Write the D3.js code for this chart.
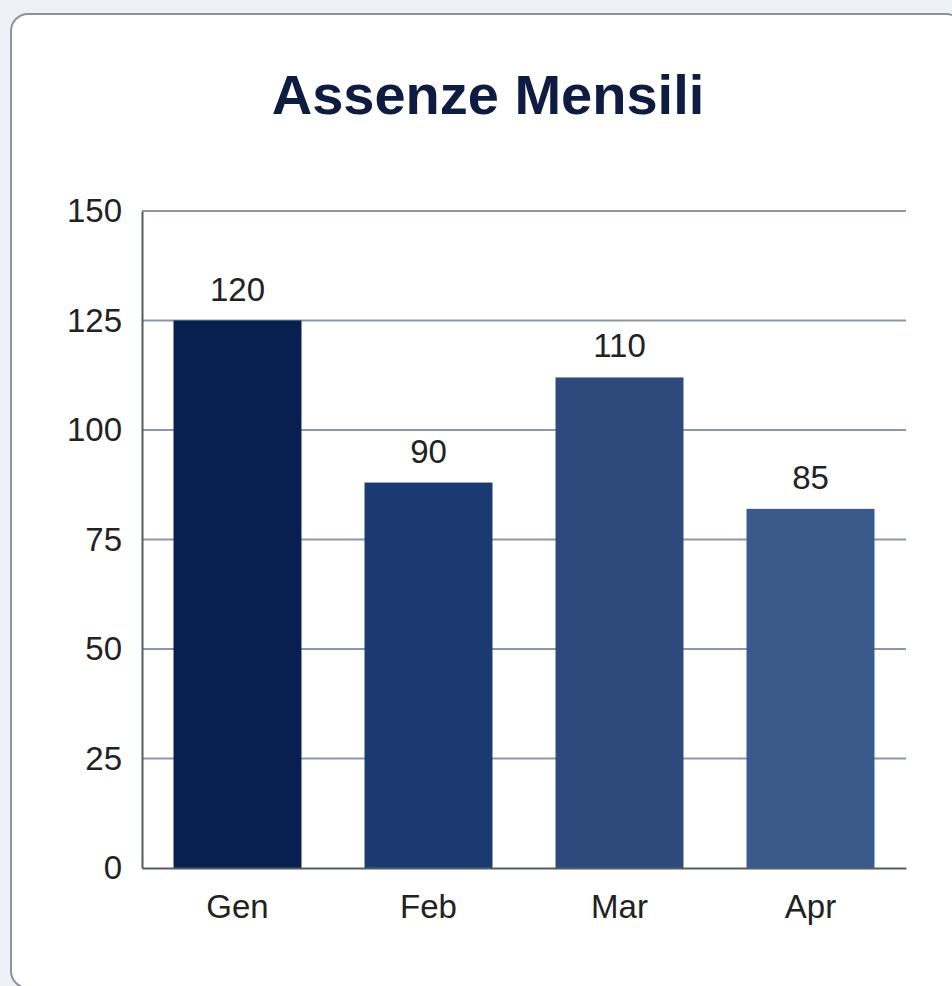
<!DOCTYPE html>
<html>
<head>
<meta charset="utf-8">
<script src="https://cdn.jsdelivr.net/npm/d3@7"></script>
<style>
  html, body { margin: 0; padding: 0; background: #eef1f6; overflow: hidden; }
  svg { display: block; }
</style>
</head>
<body>
<div id="chart"></div>
<script>
// data
var months = ['Gen', 'Feb', 'Mar', 'Apr']
var barValues = [125, 88, 112, 82] // bar heights as drawn
var valueLabels = ['120', '90', '110', '85'] // labels printed above the bars
var yTicks = [0, 25, 50, 75, 100, 125, 150]
var barColors = ['#07204f', '#1b3a72', '#2e4a7c', '#3b5a8c']

var w = 952
var h = 986

var svg = d3.select('#chart')
  .append('svg')
  .attr('width', w)
  .attr('height', h)

// card
svg.append('rect')
  .attr('x', 11)
  .attr('y', 14)
  .attr('width', 952)
  .attr('height', 974)
  .attr('rx', 17)
  .attr('fill', '#ffffff')
  .attr('stroke', '#8c939d')
  .attr('stroke-width', 2)

svg.append('text')
  .attr('x', 488)
  .attr('y', 114)
  .attr('text-anchor', 'middle')
  .attr('font-family', 'Liberation Sans, Arial, sans-serif')
  .attr('font-weight', 'bold')
  .attr('font-size', 56)
  .attr('fill', '#0e1c42')
  .text('Assenze Mensili')

var margin = { left: 142, right: 906, top: 211, bottom: 868 }

var x = d3.scaleBand()
  .domain(months)
  .range([margin.left, margin.right])
  .paddingInner(0.33)
  .paddingOuter(0.165)

var y = d3.scaleLinear()
  .domain([0, 150])
  .range([margin.bottom, margin.top])

// gridlines
svg.append('g')
  .selectAll('line')
  .data(yTicks.filter(function (d) { return d > 0 }))
  .enter()
  .append('line')
  .attr('x1', margin.left)
  .attr('x2', margin.right)
  .attr('y1', function (d) { return y(d) })
  .attr('y2', function (d) { return y(d) })
  .attr('stroke', '#8e97a4')
  .attr('stroke-width', 2)

// bars
svg.append('g')
  .selectAll('rect')
  .data(months)
  .enter()
  .append('rect')
  .attr('x', function (d) { return x(d) })
  .attr('y', function (d, i) { return y(barValues[i]) })
  .attr('width', x.bandwidth())
  .attr('height', function (d, i) { return y(0) - y(barValues[i]) })
  .attr('fill', function (d, i) { return barColors[i] })

// value labels
svg.append('g')
  .selectAll('text')
  .data(months)
  .enter()
  .append('text')
  .attr('x', function (d) { return x(d) + x.bandwidth() / 2 })
  .attr('y', function (d, i) { return y(barValues[i]) - 20 })
  .attr('text-anchor', 'middle')
  .attr('font-family', 'Liberation Sans, Arial, sans-serif')
  .attr('font-size', 33)
  .attr('fill', '#222222')
  .text(function (d, i) { return valueLabels[i] })

// y axis
var yAxis = svg.append('g')
  .attr('transform', 'translate(' + margin.left + ',0)')
  .call(d3.axisLeft(y).tickValues(yTicks).tickSize(0).tickPadding(20))
yAxis.select('.domain').attr('stroke', '#555b63').attr('stroke-width', 2)
yAxis.selectAll('text')
  .attr('font-family', 'Liberation Sans, Arial, sans-serif')
  .attr('font-size', 33)
  .attr('fill', '#222222')

// x axis
var xAxis = svg.append('g')
  .attr('transform', 'translate(0,' + margin.bottom + ')')
  .call(d3.axisBottom(x).tickSize(0).tickPadding(27))
xAxis.select('.domain').attr('stroke', '#555b63').attr('stroke-width', 2)
xAxis.selectAll('text')
  .attr('font-family', 'Liberation Sans, Arial, sans-serif')
  .attr('font-size', 33)
  .attr('fill', '#222222')
</script>
</body>
</html>
